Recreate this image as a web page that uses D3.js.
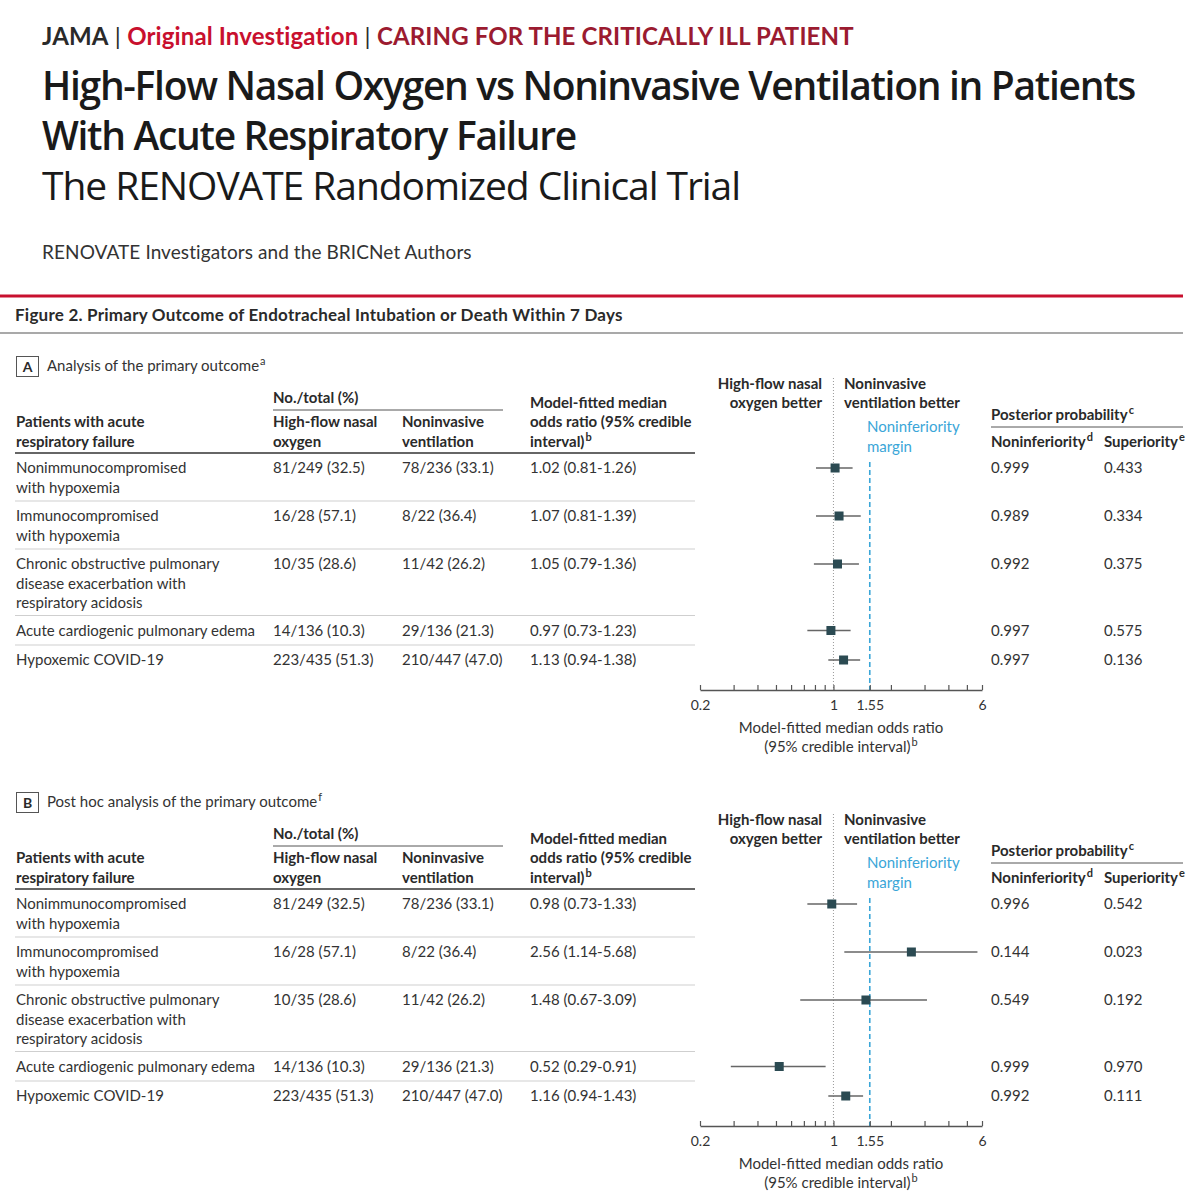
<!DOCTYPE html>
<html>
<head>
<meta charset="utf-8">
<script src="https://cdn.jsdelivr.net/npm/d3@7"></script>
<style>
  body { margin: 0; background: #fff; }
  svg text { font-family: Lato, "Open Sans", sans-serif; fill: #2a2a2a; }
</style>
</head>
<body>
<svg id="chart" width="1200" height="1200"></svg>
<script>
// ---- data ----
const groups = [
  ["Nonimmunocompromised", "with hypoxemia"],
  ["Immunocompromised", "with hypoxemia"],
  ["Chronic obstructive pulmonary", "disease exacerbation with", "respiratory acidosis"],
  ["Acute cardiogenic pulmonary edema"],
  ["Hypoxemic COVID-19"]
];
const hfno = ["81/249 (32.5)", "16/28 (57.1)", "10/35 (28.6)", "14/136 (10.3)", "223/435 (51.3)"];
const niv = ["78/236 (33.1)", "8/22 (36.4)", "11/42 (26.2)", "29/136 (21.3)", "210/447 (47.0)"];

const orA = [1.02, 1.07, 1.05, 0.97, 1.13];
const loA = [0.81, 0.81, 0.79, 0.73, 0.94];
const hiA = [1.26, 1.39, 1.36, 1.23, 1.38];
const nonInfA = ["0.999", "0.989", "0.992", "0.997", "0.997"];
const supA = ["0.433", "0.334", "0.375", "0.575", "0.136"];

const orB = [0.98, 2.56, 1.48, 0.52, 1.16];
const loB = [0.73, 1.14, 0.67, 0.29, 0.94];
const hiB = [1.33, 5.68, 3.09, 0.91, 1.43];
const nonInfB = ["0.996", "0.144", "0.549", "0.999", "0.992"];
const supB = ["0.542", "0.023", "0.192", "0.970", "0.111"];

const axisTicks = [0.2, 0.3, 0.4, 0.5, 0.6, 0.7, 0.8, 0.9, 1, 1.55, 2, 3, 4, 5, 6];
const axisLabels = [0.2, 1, 1.55, 6];
const margin = 1.55;

const svg = d3.select("#chart");
const blue = "#3aa6d8";
const red = "#c8102e";

// squeeze or widen a text to a target width with letter spacing
function fit(sel, w) {
  const n = sel.node().getComputedTextLength();
  const chars = sel.text().length;
  if (Math.abs(n - w) > 2 && chars > 1) sel.style("letter-spacing", `${(w - n) / chars}px`);
  return sel;
}

// ---- header ----
const head = svg.append("text").attr("x", 42).attr("y", 45)
  .style("font-size", "24px").style("font-weight", 700);
head.append("tspan").text("JAMA");
head.append("tspan").style("font-weight", 400).text("  |  ");
head.append("tspan").style("fill", red).text("Original Investigation");
head.append("tspan").style("font-weight", 400).text("  |  ");
head.append("tspan").style("fill", "#9b1b30").text("CARING FOR THE CRITICALLY ILL PATIENT");
fit(head, 813);

[["High-Flow Nasal Oxygen vs Noninvasive Ventilation in Patients", 100, 600, 1093],
 ["With Acute Respiratory Failure", 150, 600, 534],
 ["The RENOVATE Randomized Clinical Trial", 200, 400, 698]].forEach(([t, y, w, len]) => {
  const s = svg.append("text").attr("x", 42).attr("y", y)
    .style("font-family", "'Open Sans', Lato, sans-serif")
    .style("font-size", "39px").style("font-weight", w).style("fill", "#1a1a1a").text(t);
  fit(s, len);
});

fit(svg.append("text").attr("x", 42).attr("y", 259).style("font-size", "19px")
  .style("fill", "#333").text("RENOVATE Investigators and the BRICNet Authors"), 430);

svg.append("line").attr("x1", 0).attr("x2", 1183).attr("y1", 296).attr("y2", 296)
  .attr("stroke", red).attr("stroke-width", 3);
fit(svg.append("text").attr("x", 15).attr("y", 321).style("font-size", "17px").style("font-weight", 700)
  .text("Figure 2. Primary Outcome of Endotracheal Intubation or Death Within 7 Days"), 608);
svg.append("line").attr("x1", 0).attr("x2", 1183).attr("y1", 333).attr("y2", 333)
  .attr("stroke", "#555").attr("stroke-width", 1.2);

const x = d3.scaleLog().domain([0.2, 6]).range([700, 982]);

function sup(textSel, main, s) {
  textSel.append("tspan").text(main);
  textSel.append("tspan").attr("dx", 1).attr("dy", -6).style("font-size", "11px").text(s);
}

function drawPanel(oy, letter, label, labelSup, or, lo, hi, nonInf, supr) {
  const g = svg.append("g").attr("transform", `translate(0, ${oy})`);

  g.append("rect").attr("x", 16.5).attr("y", 356.5).attr("width", 22).attr("height", 20)
    .attr("fill", "none").attr("stroke", "#555");
  g.append("text").attr("x", 27.5).attr("y", 372).attr("text-anchor", "middle")
    .style("font-size", "14px").style("font-weight", 700).text(letter);
  sup(g.append("text").attr("x", 47).attr("y", 371).style("font-size", "15px").style("fill", "#333"), label, labelSup);

  // table header
  const ht = (xx, y, t) => g.append("text").attr("x", xx).attr("y", y)
    .style("font-size", "15px").style("font-weight", 700).text(t);
  ht(273, 403, "No./total (%)");
  g.append("line").attr("x1", 273).attr("x2", 503).attr("y1", 410).attr("y2", 410).attr("stroke", "#555");
  ht(16, 427, "Patients with acute"); ht(16, 447, "respiratory failure");
  ht(273, 427, "High-flow nasal"); ht(273, 447, "oxygen");
  ht(402, 427, "Noninvasive"); ht(402, 447, "ventilation");
  ht(530, 408, "Model-fitted median"); ht(530, 427, "odds ratio (95% credible");
  sup(g.append("text").attr("x", 530).attr("y", 447).style("font-size", "15px").style("font-weight", 700), "interval)", "b");
  g.append("line").attr("x1", 15).attr("x2", 695).attr("y1", 453).attr("y2", 453).attr("stroke", "#333").attr("stroke-width", 1.3);

  // forest header
  const fh = (xx, y, t, anchor) => g.append("text").attr("x", xx).attr("y", y)
    .attr("text-anchor", anchor).style("font-size", "15px").style("font-weight", 700).text(t);
  fh(822, 389, "High-flow nasal", "end"); fh(822, 408, "oxygen better", "end");
  fh(844, 389, "Noninvasive", "start"); fh(844, 408, "ventilation better", "start");
  g.append("text").attr("x", 867).attr("y", 432).style("font-size", "15px").style("fill", blue).text("Noninferiority");
  g.append("text").attr("x", 867).attr("y", 452).style("font-size", "15px").style("fill", blue).text("margin");

  sup(g.append("text").attr("x", 991).attr("y", 420).style("font-size", "15px").style("font-weight", 700), "Posterior probability", "c");
  g.append("line").attr("x1", 991).attr("x2", 1183).attr("y1", 427).attr("y2", 427).attr("stroke", "#555");
  sup(g.append("text").attr("x", 991).attr("y", 447).style("font-size", "15px").style("font-weight", 700), "Noninferiority", "d");
  sup(g.append("text").attr("x", 1104).attr("y", 447).style("font-size", "15px").style("font-weight", 700), "Superiority", "e");

  // rows
  let top = 453;
  const rows = groups.map((lines, i) => {
    const r = { i, lines, base: top + 20 };
    top += lines.length * 18.5 + 11;
    r.bottom = top;
    return r;
  });

  rows.forEach(r => {
    r.lines.forEach((t, k) => g.append("text").attr("x", 16).attr("y", r.base + k * 19.5)
      .style("font-size", "15px").style("fill", "#333").text(t));
    const cell = (xx, t) => g.append("text").attr("x", xx).attr("y", r.base)
      .style("font-size", "15px").style("fill", "#333").text(t);
    cell(273, hfno[r.i]);
    cell(402, niv[r.i]);
    cell(530, `${or[r.i].toFixed(2)} (${lo[r.i].toFixed(2)}-${hi[r.i].toFixed(2)})`);
    cell(991, nonInf[r.i]);
    cell(1104, supr[r.i]);
    if (r.i < rows.length - 1) {
      g.append("line").attr("x1", 15).attr("x2", 695).attr("y1", r.bottom).attr("y2", r.bottom)
        .attr("stroke", "#cfcfcf");
    }
  });

  // reference lines
  g.append("line").attr("x1", x(1)).attr("x2", x(1)).attr("y1", 378).attr("y2", 690)
    .attr("stroke", "#999").attr("stroke-dasharray", "1,2");
  g.append("line").attr("x1", x(margin)).attr("x2", x(margin)).attr("y1", 462).attr("y2", 690)
    .attr("stroke", blue).attr("stroke-width", 1.6).attr("stroke-dasharray", "5,3");

  // CIs and markers
  g.selectAll(".ci").data(rows).enter().append("line").attr("class", "ci")
    .attr("x1", d => x(lo[d.i])).attr("x2", d => x(hi[d.i]))
    .attr("y1", d => d.base - 5).attr("y2", d => d.base - 5)
    .attr("stroke", "#666").attr("stroke-width", 1.3);
  g.selectAll(".pt").data(rows).enter().append("rect").attr("class", "pt")
    .attr("x", d => x(or[d.i]) - 4.5).attr("y", d => d.base - 9.5)
    .attr("width", 9).attr("height", 9).attr("fill", "#2b4a52");

  // axis
  const ax = g.append("g").attr("transform", "translate(0, 690)")
    .call(d3.axisBottom(x).tickValues(axisTicks).tickSizeInner(-5).tickSizeOuter(0).tickPadding(10)
      .tickFormat(d => axisLabels.includes(d) ? String(d) : ""));
  ax.select(".domain").attr("stroke", "#555").attr("stroke-width", 1.3);
  ax.selectAll(".tick line").attr("stroke", "#555").attr("stroke-width", 1.2);
  ax.selectAll(".tick text").style("font-size", "14px").style("fill", "#333")
    .style("font-family", "Lato, sans-serif");

  g.append("text").attr("x", 841).attr("y", 733).attr("text-anchor", "middle")
    .style("font-size", "15px").style("fill", "#333").text("Model-fitted median odds ratio");
  const t2 = g.append("text").attr("x", 841).attr("y", 752).attr("text-anchor", "middle")
    .style("font-size", "15px").style("fill", "#333");
  sup(t2, "(95% credible interval)", "b");
}

drawPanel(0, "A", "Analysis of the primary outcome", "a", orA, loA, hiA, nonInfA, supA);
drawPanel(436, "B", "Post hoc analysis of the primary outcome", "f", orB, loB, hiB, nonInfB, supB);
</script>
</body>
</html>
